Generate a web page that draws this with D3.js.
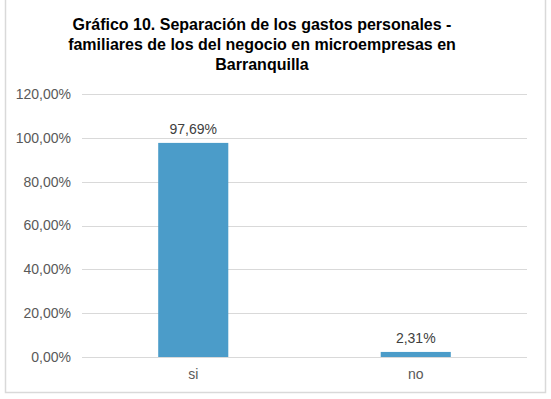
<!DOCTYPE html>
<html lang="es">
<head>
  <meta charset="utf-8">
  <script src="https://d3js.org/d3.v7.min.js"></script>
  <style>
    body { margin: 0; background: #fff; }
    text { font-family: "Liberation Sans", Arial, Helvetica, sans-serif; }
  </style>
</head>
<body>

<svg width="551" height="399"></svg>

<script>
var categories = ["si", "no"];
var values = [97.69, 2.31];
var valueLabels = ["97,69%", "2,31%"];
var tickValues = [0, 20, 40, 60, 80, 100, 120];
var tickLabels = ["0,00%", "20,00%", "40,00%", "60,00%", "80,00%", "100,00%", "120,00%"];
var titleLines = ["Gráfico 10. Separación de los gastos personales -",
                  "familiares de los del negocio en microempresas en",
                  "Barranquilla"];

var svg = d3.select("svg");

// chart frame
svg.append("rect")
    .attr("x", 5.5).attr("y", -1.5)
    .attr("width", 540).attr("height", 394)
    .attr("fill", "none")
    .attr("stroke", "#d9d9d9")
    .attr("stroke-width", 1.5);

var margin = {left: 82, right: 527, top: 94, bottom: 357};

var x = d3.scaleBand()
    .domain(categories)
    .range([margin.left, margin.right])
    .paddingInner(0.685)
    .paddingOuter(0.3425);

var y = d3.scaleLinear()
    .domain([0, 120])
    .range([margin.bottom, margin.top]);

// title
svg.append("g").selectAll("text")
    .data(titleLines)
    .enter().append("text")
    .attr("x", 262)
    .attr("y", (d, i) => 30 + i * 20)
    .attr("text-anchor", "middle")
    .attr("font-size", "16px")
    .attr("font-weight", "bold")
    .attr("fill", "#000")
    .text(d => d);

// gridlines
svg.append("g").selectAll("line")
    .data(tickValues)
    .enter().append("line")
    .attr("x1", margin.left).attr("x2", margin.right)
    .attr("y1", d => Math.round(y(d)) + 0.5)
    .attr("y2", d => Math.round(y(d)) + 0.5)
    .attr("stroke", "#d9d9d9")
    .attr("stroke-width", 1);

// y axis labels
var yAxis = d3.axisLeft(y)
    .tickValues(tickValues)
    .tickFormat((d, i) => tickLabels[i])
    .tickSize(0)
    .tickPadding(11);

var yg = svg.append("g")
    .attr("transform", "translate(" + margin.left + ",0)")
    .call(yAxis);
yg.select(".domain").remove();
yg.selectAll("text")
    .attr("font-size", "14px")
    .attr("font-family", "Liberation Sans, Arial, sans-serif")
    .attr("fill", "#595959");

// bars
svg.append("g").selectAll("rect")
    .data(values)
    .enter().append("rect")
    .attr("x", (d, i) => x(categories[i]))
    .attr("width", x.bandwidth())
    .attr("y", d => y(d))
    .attr("height", d => y(0) - y(d))
    .attr("fill", "#4b9cc9");

// data labels
svg.append("g").selectAll("text")
    .data(values)
    .enter().append("text")
    .attr("x", (d, i) => x(categories[i]) + x.bandwidth() / 2)
    .attr("y", d => y(d) - 9)
    .attr("text-anchor", "middle")
    .attr("font-size", "14px")
    .attr("fill", "#404040")
    .text((d, i) => valueLabels[i]);

// x axis labels
var xAxis = d3.axisBottom(x).tickSize(0).tickPadding(12);
var xg = svg.append("g")
    .attr("transform", "translate(0," + margin.bottom + ")")
    .call(xAxis);
xg.select(".domain").remove();
xg.selectAll("text")
    .attr("font-size", "14px")
    .attr("font-family", "Liberation Sans, Arial, sans-serif")
    .attr("fill", "#595959");
</script>
</body>
</html>
